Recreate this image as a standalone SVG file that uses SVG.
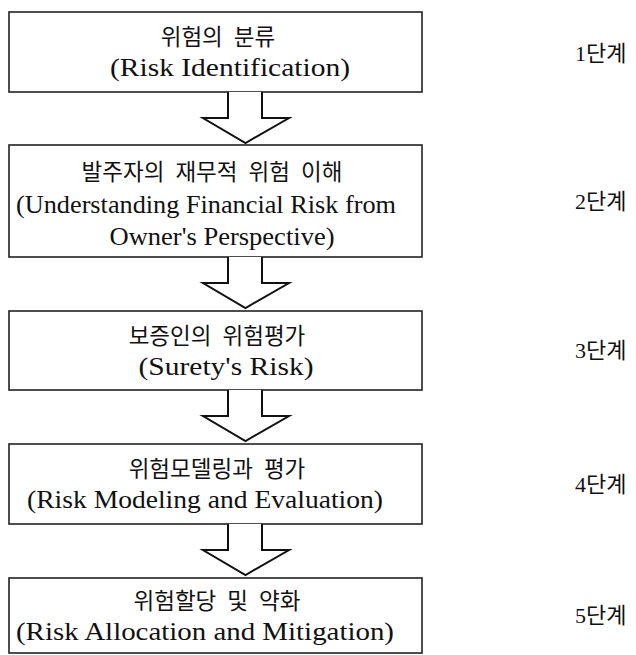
<svg xmlns="http://www.w3.org/2000/svg" width="636" height="655" viewBox="0 0 636 655">
  <style>
    .box { fill: #ffffff; stroke: #222222; stroke-width: 1.6; }
    .arrow { fill: #ffffff; stroke: #111111; stroke-width: 2; stroke-linejoin: miter; }
    .t { font-family: "Liberation Serif", "Noto Sans CJK KR", serif; font-size: 26px; fill: #111111; text-anchor: middle; }
    .ko { font-family: "Noto Sans CJK KR", "Liberation Serif", serif; font-size: 22.5px; word-spacing: 6px; fill: #111111; text-anchor: middle; }
    .stage { font-family: "Liberation Serif", "Noto Sans CJK KR", serif; font-size: 22px; fill: #111111; }
  </style>

  <!-- step boxes -->
  <g id="step1">
    <rect class="box" x="9" y="12" width="413" height="80"/>
    <text class="ko" x="218" y="45">위험의 분류</text>
    <text class="t" x="230" y="76" textLength="240" lengthAdjust="spacingAndGlyphs">(Risk Identification)</text>
    <text class="stage" x="575" y="61">1단계</text>
  </g>

  <g id="step2">
    <rect class="box" x="9" y="145" width="413" height="112"/>
    <text class="ko" x="212" y="180">발주자의 재무적 위험 이해</text>
    <text class="t" x="206" y="213" textLength="380" lengthAdjust="spacingAndGlyphs">(Understanding Financial Risk from</text>
    <text class="t" x="222" y="245" textLength="225" lengthAdjust="spacingAndGlyphs">Owner's Perspective)</text>
    <text class="stage" x="575" y="209">2단계</text>
  </g>

  <g id="step3">
    <rect class="box" x="9" y="311" width="413" height="79"/>
    <text class="ko" x="217" y="344">보증인의 위험평가</text>
    <text class="t" x="226" y="375" textLength="175" lengthAdjust="spacingAndGlyphs">(Surety's Risk)</text>
    <text class="stage" x="575" y="358">3단계</text>
  </g>

  <g id="step4">
    <rect class="box" x="9" y="444" width="413" height="80"/>
    <text class="ko" x="217" y="477">위험모델링과 평가</text>
    <text class="t" x="205" y="508" textLength="356" lengthAdjust="spacingAndGlyphs">(Risk Modeling and Evaluation)</text>
    <text class="stage" x="575" y="492">4단계</text>
  </g>

  <g id="step5">
    <rect class="box" x="9" y="578" width="413" height="75"/>
    <text class="ko" x="217" y="609">위험할당 및 약화</text>
    <text class="t" x="205" y="640" textLength="378" lengthAdjust="spacingAndGlyphs">(Risk Allocation and Mitigation)</text>
    <text class="stage" x="575" y="623">5단계</text>
  </g>

  <!-- block arrows between steps -->
  <g id="connectors">
    <path class="arrow" d="M228,92 V118 H203 L245.5,143 L289,118 H262 V92"/>
    <path class="arrow" d="M228,257 V283 H203 L245.5,308 L289,283 H262 V257"/>
    <path class="arrow" d="M228,390 V416 H203 L245.5,441 L289,416 H262 V390"/>
    <path class="arrow" d="M228,524 V550 H203 L245.5,575 L289,550 H262 V524"/>
  </g>
</svg>
